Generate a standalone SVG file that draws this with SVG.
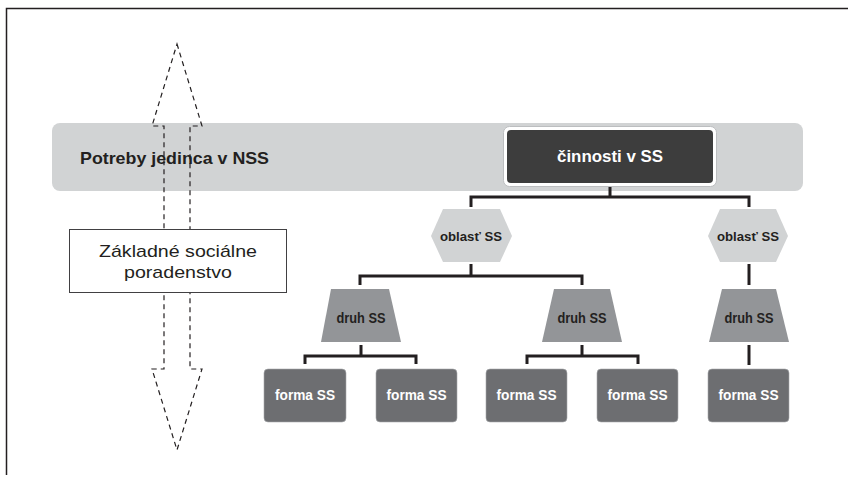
<svg xmlns="http://www.w3.org/2000/svg" width="848" height="478" viewBox="0 0 848 478">
<style>
.b{font-family:"Liberation Sans",Arial,sans-serif;font-weight:bold;text-anchor:middle}
.r{font-family:"Liberation Sans",Arial,sans-serif;text-anchor:middle}
.ln{fill:none;stroke:#231f20;stroke-width:3}
.hex{fill:#d1d3d4}
.trap{fill:#939598}
.forma{fill:#6d6e71;stroke:#a7a9ac;stroke-width:0.6}
.dk{fill:#231f20}
.wt{fill:#ffffff}
</style>
<rect width="848" height="478" fill="#ffffff"/>
<g id="frame">
<path d="M6.5 475 V8.5 H848" fill="none" stroke="#231f20" stroke-width="1.5"/>
</g>
<g id="band">
<rect x="52" y="123" width="751" height="68" rx="8" fill="#d1d3d4"/>
<text class="b dk" x="174.5" y="164" font-size="17" textLength="189" lengthAdjust="spacingAndGlyphs">Potreby jedinca v NSS</text>
</g>
<g id="double-arrow">
<path d="M177 44 L202 126 L190 126 L190 369 L202 369 L177 450 L152 369 L164 369 L164 126 L152 126 Z" fill="none" stroke="#231f20" stroke-width="1.2" stroke-dasharray="5,4"/>
</g>
<g id="poradenstvo">
<rect x="69.5" y="229.5" width="217" height="63" fill="#ffffff" stroke="#414042" stroke-width="1"/>
<text class="r dk" x="178" y="257" font-size="17" textLength="158" lengthAdjust="spacingAndGlyphs">Základné sociálne</text>
<text class="r dk" x="178" y="278" font-size="17" textLength="108" lengthAdjust="spacingAndGlyphs">poradenstvo</text>
</g>
<g id="connectors">
<path class="ln" d="M610 183 V197 M471 197 H749 M471 195.5 V207 M749 195.5 V207"/>
<path class="ln" d="M471 264 V276 M360 276 H582 M360 274.5 V285 M582 274.5 V285"/>
<path class="ln" d="M749 264 V285"/>
<path class="ln" d="M361 345 V356 M305 356 H416 M305 354.5 V364 M416 354.5 V364"/>
<path class="ln" d="M582 345 V356 M527 356 H638 M527 354.5 V364 M638 354.5 V364"/>
<path class="ln" d="M749 345 V365"/>
</g>
<g id="cinnosti">
<rect x="503.5" y="126.5" width="213" height="60" rx="6" fill="#ffffff" stroke="#bcbec0" stroke-width="1"/>
<rect x="507" y="130" width="206" height="53" rx="4" fill="#3d3d3d"/>
<text class="b wt" x="610" y="162" font-size="16" textLength="106" lengthAdjust="spacingAndGlyphs">činnosti v SS</text>
</g>
<g id="oblast1">
<polygon class="hex" points="431,236 443,209 500,209 512,236 500,262 443,262"/>
<text class="b dk" x="471" y="241" font-size="13" textLength="62" lengthAdjust="spacingAndGlyphs">oblasť SS</text>
</g>
<g id="oblast2">
<polygon class="hex" points="708,236 720,209 776,209 788,236 776,262 720,262"/>
<text class="b dk" x="748" y="241" font-size="13" textLength="62" lengthAdjust="spacingAndGlyphs">oblasť SS</text>
</g>
<g id="druh1">
<polygon class="trap" points="331,289 389,289 401,342 321,342"/>
<text class="b dk" x="361" y="323" font-size="14" textLength="49" lengthAdjust="spacingAndGlyphs">druh SS</text>
</g>
<g id="druh2">
<polygon class="trap" points="554,289 610,289 622,342 542,342"/>
<text class="b dk" x="582" y="323" font-size="14" textLength="49" lengthAdjust="spacingAndGlyphs">druh SS</text>
</g>
<g id="druh3">
<polygon class="trap" points="722,289 776,289 789,342 709,342"/>
<text class="b dk" x="749" y="323" font-size="14" textLength="49" lengthAdjust="spacingAndGlyphs">druh SS</text>
</g>
<g id="forma1">
<rect class="forma" x="264" y="369" width="82" height="53" rx="4"/>
<text class="b wt" x="305" y="400" font-size="14" textLength="60" lengthAdjust="spacingAndGlyphs">forma SS</text>
</g>
<g id="forma2">
<rect class="forma" x="376" y="369" width="81" height="53" rx="4"/>
<text class="b wt" x="416.5" y="400" font-size="14" textLength="60" lengthAdjust="spacingAndGlyphs">forma SS</text>
</g>
<g id="forma3">
<rect class="forma" x="486" y="369" width="81" height="53" rx="4"/>
<text class="b wt" x="526.5" y="400" font-size="14" textLength="60" lengthAdjust="spacingAndGlyphs">forma SS</text>
</g>
<g id="forma4">
<rect class="forma" x="597" y="369" width="81" height="53" rx="4"/>
<text class="b wt" x="637.5" y="400" font-size="14" textLength="60" lengthAdjust="spacingAndGlyphs">forma SS</text>
</g>
<g id="forma5">
<rect class="forma" x="708" y="369" width="81" height="53" rx="4"/>
<text class="b wt" x="748.5" y="400" font-size="14" textLength="60" lengthAdjust="spacingAndGlyphs">forma SS</text>
</g>
</svg>
